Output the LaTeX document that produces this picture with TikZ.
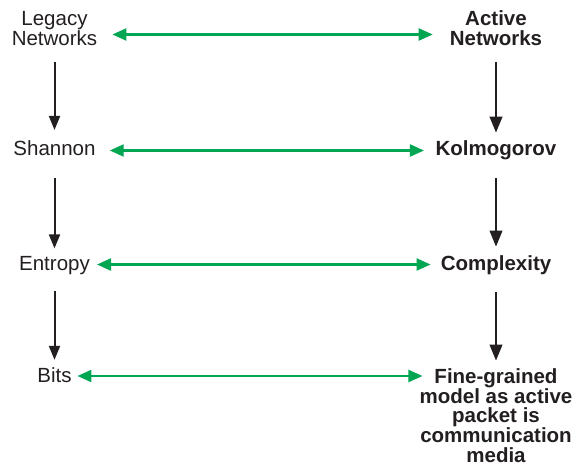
\documentclass[tikz,border=0pt]{standalone}
\usepackage{fontspec}
\setmainfont{Liberation Sans}
\usetikzlibrary{arrows.meta}
\definecolor{linkgreen}{HTML}{00A651}
\definecolor{ink}{HTML}{231F20}
\begin{document}
\begin{tikzpicture}[x=1pt,y=-1pt,
  lbl/.style={inner sep=0pt, anchor=base, text=ink, align=center,
    font=\fontsize{20.5}{19.7}\selectfont},
  blbl/.style={lbl, font=\fontsize{20.5}{19.7}\selectfont\bfseries},
  garrow/.style={linkgreen, line width=2.3pt,
    {Triangle[length=14pt,width=12pt]}-{Triangle[length=14pt,width=12pt]}},
  karrow/.style={ink, line width=2pt, -{Triangle[length=14pt,width=11pt]}},
  karrowb/.style={ink, line width=2.3pt, -{Triangle[length=16pt,width=12.5pt]}}]
\useasboundingbox (0,0) rectangle (584,468);

% left column (multi-line nodes sit on the baseline of their last line)
\node[lbl] (legacy) at (54.5,45.7) {Legacy\\Networks};
\node[lbl] (shannon) at (54.5,156) {Shannon};
\node[lbl] (entropy) at (54.5,270.7) {Entropy};
\node[lbl] (bits) at (54.5,382.7) {Bits};

% right column
\node[blbl] (active) at (496,45.7) {Active\\Networks};
\node[blbl] (kolmo) at (496,155.7) {Kolmogorov};
\node[blbl] (complex) at (496,270) {Complexity};
\node[blbl] (fine) at (496,462.1) {Fine-grained\\model as active\\packet is\\communication\\media};

% heights of the horizontal links
\coordinate (row1) at (0,34.5);
\coordinate (row2) at (0,150.5);
\coordinate (row3) at (0,264.5);
\coordinate (row4) at (0,376);

% horizontal two-way links
\draw[garrow, shorten <=15pt, shorten >=17pt] (legacy.east |- row1) -- (active.west |- row1);
\draw[garrow, shorten <=14pt, shorten >=11.5pt] (shannon.east |- row2) -- (kolmo.west |- row2);
\draw[garrow, shorten <=7pt, shorten >=10pt] (entropy.east |- row3) -- (complex.west |- row3);
\draw[garrow, shorten <=5.7pt, shorten >=-3pt] (bits.east |- row4) -- (fine.west |- row4);

% vertical links, left
\draw[karrow, shorten <=16pt, shorten >=11pt] (legacy.south) -- (legacy.south |- shannon.north);
\draw[karrow, shorten <=22pt, shorten >=8pt] (shannon.south) -- (shannon.south |- entropy.north);
\draw[karrow, shorten <=16pt, shorten >=7.8pt] (entropy.south) -- (entropy.south |- bits.north);

% vertical links, right
\draw[karrowb, shorten <=16.3pt, shorten >=8pt] (active.south) -- (active.south |- kolmo.north);
\draw[karrowb, shorten <=18pt, shorten >=8.3pt] (kolmo.south) -- (kolmo.south |- complex.north);
\draw[karrowb, shorten <=17.7pt, shorten >=7.6pt] (complex.south) -- (complex.south |- fine.north);
\end{tikzpicture}
\end{document}
